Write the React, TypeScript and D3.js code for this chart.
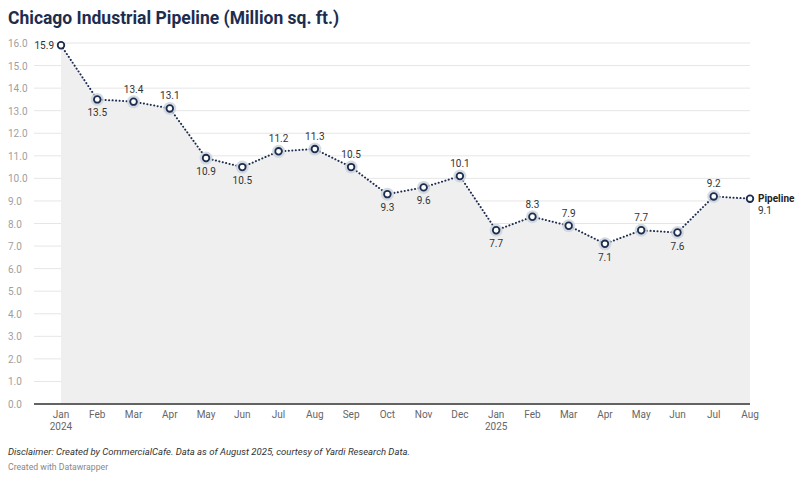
import * as d3 from "d3";
import React from "react";

const months = ["Jan", "Feb", "Mar", "Apr", "May", "Jun", "Jul", "Aug", "Sep", "Oct", "Nov", "Dec",
  "Jan", "Feb", "Mar", "Apr", "May", "Jun", "Jul", "Aug"];
const years = ["2024", "", "", "", "", "", "", "", "", "", "", "", "2025", "", "", "", "", "", "", ""];
const pipeline = [15.9, 13.5, 13.4, 13.1, 10.9, 10.5, 11.2, 11.3, 10.5, 9.3, 9.6, 10.1,
  7.7, 8.3, 7.9, 7.1, 7.7, 7.6, 9.2, 9.1];
// label position per point: a = above, b = below, l = left, r = right
const labelPos = ["l", "b", "a", "a", "b", "b", "a", "a", "a", "b", "b", "a",
  "b", "a", "a", "b", "a", "b", "a", "r"];
const yTicks = d3.range(0, 16.01, 1);

const W = 800;
const H = 480;
const navy = "#1d2d4f";
const font = "Roboto, 'Noto Sans', sans-serif";

export default function App() {
  const x = d3.scaleLinear().domain([0, pipeline.length - 1]).range([61, 750]);
  const y = d3.scaleLinear().domain([0, 16]).range([404, 43]);

  const line = d3.line<number>().x((_, i) => x(i)).y((d) => y(d));
  const area = d3.area<number>().x((_, i) => x(i)).y0(y(0)).y1((d) => y(d));

  return (
    <div style={{ position: "absolute", left: 0, top: 0 }}>
      <svg width={W} height={H} style={{ display: "block", fontFamily: font }}>
        <rect width={W} height={H} fill="#fff" />
        <text x={8} y={24} fontSize={17.5} fontWeight={700} fill={navy}>
          Chicago Industrial Pipeline (Million sq. ft.)
        </text>

        {/* grid + y labels */}
        {yTicks.map((t) => (
          <g key={t}>
            <line x1={34} x2={750} y1={y(t)} y2={y(t)} stroke="#e6e6e6" strokeWidth={1} />
            <text x={8} y={y(t) + 4} fontSize={10} fill="#a0a0a0">
              {t.toFixed(1)}
            </text>
          </g>
        ))}

        <path d={area(pipeline)!} fill="#efefef" />
        <line x1={34} x2={750} y1={y(0)} y2={y(0)} stroke="#333" strokeWidth={1.3} />

        {/* x labels */}
        {months.map((m, i) => (
          <g key={i}>
            <text x={x(i)} y={418} fontSize={10} fill="#666" textAnchor="middle">{m}</text>
            {years[i] && (
              <text x={x(i)} y={430} fontSize={10} fill="#666" textAnchor="middle">{years[i]}</text>
            )}
          </g>
        ))}

        <path d={line(pipeline)!} fill="none" stroke={navy} strokeWidth={2}
          strokeDasharray="0.1 3.4" strokeLinecap="round" />

        {pipeline.map((v, i) => {
          const halo = i > 0 && i < pipeline.length - 1;
          return (
            <g key={i}>
              {halo && <circle cx={x(i)} cy={y(v)} r={6.5} fill="#c9d2dc" opacity={0.8} />}
              <circle cx={x(i)} cy={y(v)} r={3.3} fill="#fff" stroke={navy} strokeWidth={1.8} />
            </g>
          );
        })}

        {pipeline.map((v, i) => {
          const p = labelPos[i];
          const cx = x(i);
          const cy = y(v);
          if (p === "l") {
            return (
              <text key={i} x={cx - 7} y={cy + 4} fontSize={10} fill="#333" textAnchor="end">
                {v.toFixed(1)}
              </text>
            );
          }
          if (p === "r") {
            return (
              <g key={i}>
                <text x={cx + 8} y={cy + 3} fontSize={10} fontWeight={700} fill="#222">Pipeline</text>
                <text x={cx + 8} y={cy + 15} fontSize={10} fill="#333">{v.toFixed(1)}</text>
              </g>
            );
          }
          return (
            <text key={i} x={cx} y={p === "a" ? cy - 9 : cy + 17} fontSize={10} fill="#333"
              textAnchor="middle">
              {v.toFixed(1)}
            </text>
          );
        })}

        <text x={8} y={455} fontSize={9.5} fontStyle="italic" fill="#333">
          Disclaimer: Created by CommercialCafe. Data as of August 2025, courtesy of Yardi Research Data.
        </text>
        <text x={8} y={470} fontSize={8.7} fill="#888">Created with Datawrapper</text>
      </svg>
    </div>
  );
}
